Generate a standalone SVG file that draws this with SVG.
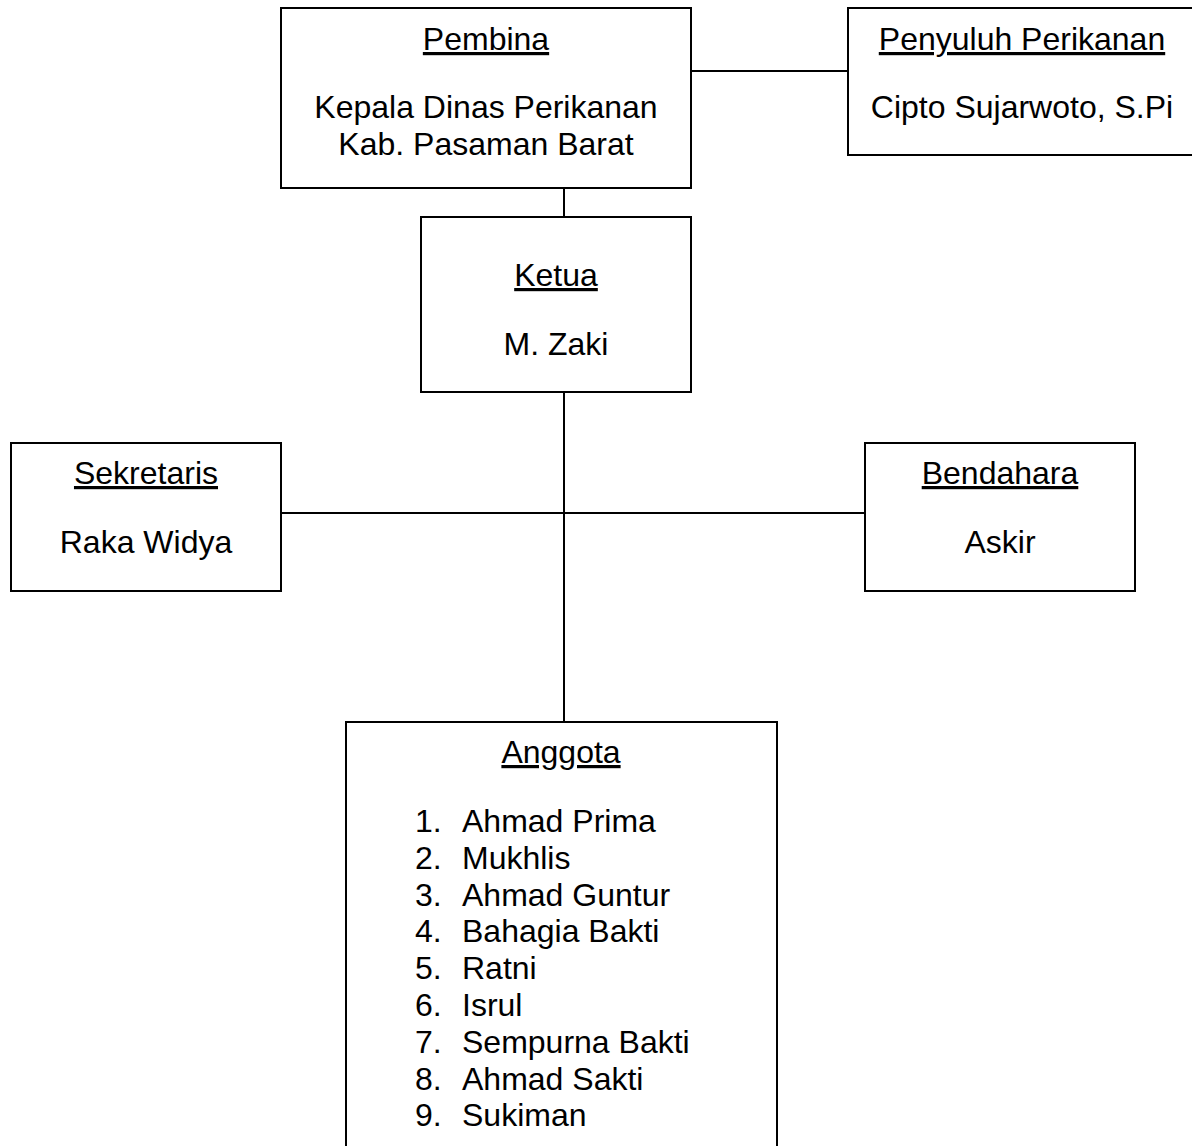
<svg xmlns="http://www.w3.org/2000/svg" width="1192" height="1146" viewBox="0 0 1192 1146">
<style>
.box{fill:#fff;stroke:#000;stroke-width:2}
.ln{stroke:#000;stroke-width:2;fill:none}
text{font-family:"Liberation Sans",Arial,sans-serif;font-size:32px;fill:#000}
.c{text-anchor:middle}
.u{text-decoration:underline}
</style>
<rect width="1192" height="1146" fill="#fff"/>
<g id="connectors">
<line class="ln" x1="691" y1="71" x2="848" y2="71"/>
<line class="ln" x1="564" y1="188" x2="564" y2="217"/>
<line class="ln" x1="564" y1="392" x2="564" y2="722"/>
<line class="ln" x1="281" y1="513" x2="865" y2="513"/>
</g>
<g id="pembina">
<rect class="box" x="281" y="8" width="410" height="180"/>
<text class="c u" x="486" y="50">Pembina</text>
<text class="c" x="486" y="118">Kepala Dinas Perikanan</text>
<text class="c" x="486" y="155">Kab. Pasaman Barat</text>
</g>
<g id="penyuluh">
<rect class="box" x="848" y="8" width="350" height="147"/>
<text class="c u" x="1022" y="50">Penyuluh Perikanan</text>
<text class="c" x="1022" y="118">Cipto Sujarwoto, S.Pi</text>
</g>
<g id="ketua">
<rect class="box" x="421" y="217" width="270" height="175"/>
<text class="c u" x="556" y="286">Ketua</text>
<text class="c" x="556" y="355">M. Zaki</text>
</g>
<g id="sekretaris">
<rect class="box" x="11" y="443" width="270" height="148"/>
<text class="c u" x="146" y="484">Sekretaris</text>
<text class="c" x="146" y="553">Raka Widya</text>
</g>
<g id="bendahara">
<rect class="box" x="865" y="443" width="270" height="148"/>
<text class="c u" x="1000" y="484">Bendahara</text>
<text class="c" x="1000" y="553">Askir</text>
</g>
<g id="anggota">
<rect class="box" x="346" y="722" width="431" height="440"/>
<text class="c u" x="561" y="763">Anggota</text>
<text x="415" y="832">1.</text><text x="462" y="832">Ahmad Prima</text>
<text x="415" y="868.8">2.</text><text x="462" y="868.8">Mukhlis</text>
<text x="415" y="905.6">3.</text><text x="462" y="905.6">Ahmad Guntur</text>
<text x="415" y="942.4">4.</text><text x="462" y="942.4">Bahagia Bakti</text>
<text x="415" y="979.2">5.</text><text x="462" y="979.2">Ratni</text>
<text x="415" y="1016">6.</text><text x="462" y="1016">Isrul</text>
<text x="415" y="1052.8">7.</text><text x="462" y="1052.8">Sempurna Bakti</text>
<text x="415" y="1089.6">8.</text><text x="462" y="1089.6">Ahmad Sakti</text>
<text x="415" y="1126.4">9.</text><text x="462" y="1126.4">Sukiman</text>
</g>
</svg>
